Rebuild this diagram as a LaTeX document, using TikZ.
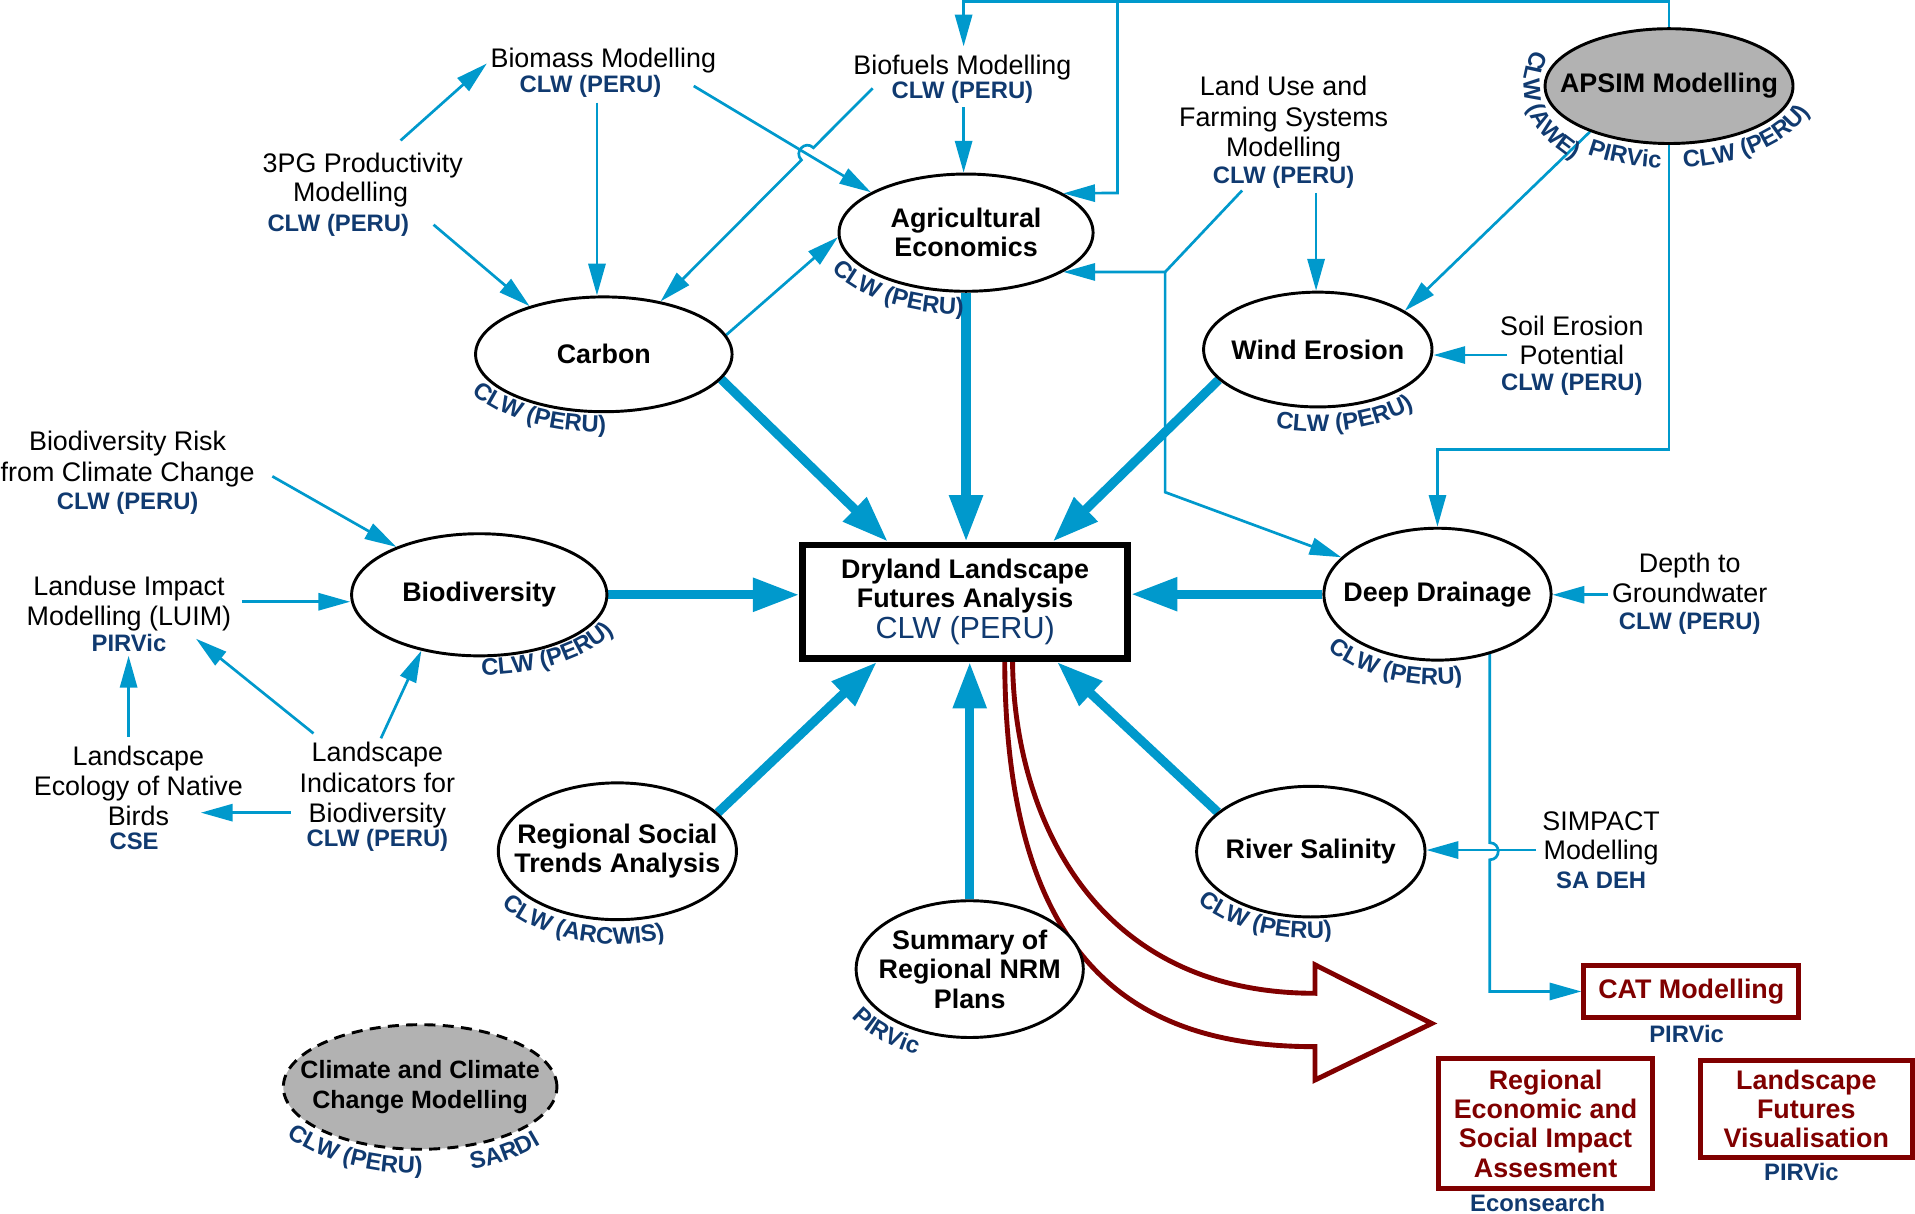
\documentclass[tikz,border=0pt]{standalone}
\usepackage{fontspec}
\setmainfont{Liberation Sans}
\usetikzlibrary{arrows.meta,shapes.geometric,decorations.text,calc}
\pgfdeclarelayer{bg}
\pgfsetlayers{bg,main}
\definecolor{cblue}{RGB}{0,153,204}
\definecolor{labblue}{RGB}{16,58,112}
\definecolor{dred}{RGB}{128,0,0}
\definecolor{gfill}{RGB}{178,178,178}
\newcommand\regf{\fontsize{22}{24}\selectfont}
\newcommand\labs{\fontsize{19.5}{24}\selectfont\bfseries}
\newcommand\labf{\labs\color{labblue}}
\newcommand\bldf{\fontsize{22}{24}\selectfont\bfseries}
\newcommand\arclabel[6]{\path[decorate,decoration={text along path,text align=center,text={|\labf|#6}}] ($(#1.center)+(#2:#4 and #5)$) arc[start angle=#2,end angle=#3,x radius=#4,y radius=#5];}
\begin{document}
\begin{tikzpicture}[x=1pt,y=-1pt,
  conn/.style={draw=cblue,line width=2.2pt,-{Triangle[length=26pt,width=14pt]}},
  bigconn/.style={draw=cblue,line width=7.5pt,-{Triangle[length=38pt,width=26pt]}},
  ell/.style={ellipse,draw=black,line width=2.4pt,fill=white,inner sep=0pt},
  gell/.style={ell,fill=gfill},
  etext/.style={font=\bldf,align=center,inner sep=0pt},
  txt/.style={font=\regf,align=center,inner sep=0pt},
  lab/.style={font=\labs,text=labblue,inner sep=0pt},
  cbox/.style={draw=black,line width=5.5pt,fill=white,inner sep=0pt,minimum width=266pt,minimum height=93pt,font=\bldf,align=center},
  rbox/.style={draw=dred,line width=4pt,fill=white,inner sep=0pt,font=\bldf,text=dred,align=center}]
\useasboundingbox (0,0) rectangle (1568,994);

% ---------- ellipses ----------
\node[ell,minimum width=208pt,minimum height=96pt] (agri) at (791,190.5) {};
\node[etext] (agri-t) at (agri.center) {Agricultural\\Economics};
\node[ell,minimum width=210pt,minimum height=94pt] (carbon) at (494.4,290.1) {};
\node[etext] (carbon-t) at (carbon.center) {Carbon};
\node[ell,minimum width=187pt,minimum height=94pt] (wind) at (1079,286.2) {};
\node[etext] (wind-t) at (wind.center) {Wind Erosion};
\node[gell,minimum width=203pt,minimum height=94pt] (apsim) at (1366.6,70.5) {};
\node[etext] (apsim-t) at (apsim.center) {APSIM Modelling};
\node[ell,minimum width=209pt,minimum height=100pt] (biod) at (392.4,487) {};
\node[etext] (biod-t) at (biod.center) {Biodiversity};
\node[ell,minimum width=186pt,minimum height=108pt] (deep) at (1177,486.5) {};
\node[etext] (deep-t) at (deep.center) {Deep Drainage};
\node[ell,minimum width=195pt,minimum height=112pt] (social) at (505.5,697) {};
\node[etext] (social-t) at (social.center) {Regional Social\\Trends Analysis};
\node[ell,minimum width=186pt,minimum height=112pt] (nrm) at (794,793.5) {};
\node[etext] (nrm-t) at (nrm.center) {Summary of\\Regional NRM\\Plans};
\node[ell,minimum width=187pt,minimum height=107pt] (river) at (1073.3,697.3) {};
\node[etext] (river-t) at (river.center) {River Salinity};
\node[gell,dash pattern=on 9pt off 6pt,minimum width=224pt,minimum height=102pt] (climate) at (344,890) {};
\node[etext,font=\fontsize{20.5}{24}\selectfont\bfseries] (climate-t) at (climate.center) {Climate and Climate\\Change Modelling};

% ---------- central box and red boxes ----------
\node[cbox] (box) at (790.25,492.75) {Dryland Landscape\\Futures Analysis\\[1pt]{\fontsize{25}{26}\selectfont\mdseries\color{labblue}CLW (PERU)}};
\node[rbox,minimum width=176pt,minimum height=42.5pt] (cat) at (1384.8,811.8) {CAT Modelling};
\node[rbox,minimum width=175pt,minimum height=106pt] (rei) at (1265.5,920) {Regional\\Economic and\\Social Impact\\Assesment};
\node[rbox,minimum width=174pt,minimum height=80pt] (lfv) at (1479,908) {Landscape\\Futures\\Visualisation};
\node[lab] (cat-l) at (1381,846.5) {PIRVic};
\node[lab] (rei-l) at (1259,985) {Econsearch};
\node[lab] (lfv-l) at (1475,960) {PIRVic};

% ---------- free text nodes ----------
\node[txt] (bm) at (488.5,59.4) {\hspace*{11pt}Biomass Modelling\\[-4pt]{\labf CLW (PERU)}\hspace*{10pt}};
\node[txt] (bf) at (788,64.7) {Biofuels Modelling\\[-4pt]{\labf CLW (PERU)}};
\node[txt] (tpg) at (287,159.2) {\hspace*{20pt}3PG Productivity\\Modelling\\{\labf CLW (PERU)}\hspace*{20pt}};
\node[txt] (lu) at (1051,108.2) {Land Use and\\[1pt]Farming Systems\\[0.5pt]Modelling\\[-2pt]{\labf CLW (PERU)}};
\node[txt] (soil) at (1287,291) {Soil Erosion\\Potential\\[-3pt]{\labf CLW (PERU)}};
\node[txt] (bdr) at (104.5,387.4) {Biodiversity Risk\\[1.4pt]from Climate Change\\[-1pt]{\labf CLW (PERU)}};
\node[txt] (luim) at (105.6,502.8) {Landuse Impact\\[0.6pt]Modelling (LUIM)\\[-3pt]{\labf PIRVic}};
\node[txt] (birds) at (113.3,653.2) {Landscape\\[0.6pt]Ecology of Native\\[0.6pt]Birds\\[-4pt]{\labf CSE}\hspace*{7pt}};
\node[txt] (ind) at (309,652.5) {Landscape\\[1pt]Indicators for\\[0.6pt]Biodiversity\\[-4.4pt]{\labf CLW (PERU)}};
\node[txt] (depth) at (1383.5,486) {Depth to\\[1pt]Groundwater\\[-2pt]{\labf CLW (PERU)}};
\node[txt] (simp) at (1311,696) {SIMPACT\\Modelling\\[-1pt]{\labf SA DEH}};

% ---------- curved organisation labels ----------
\arclabel{agri}{164}{84}{124}{67}{CLW (PERU)}
\arclabel{carbon}{162}{82}{124}{64}{CLW (PERU)}
\arclabel{wind}{116}{36}{113}{67}{CLW (PERU)}
\arclabel{apsim}{209}{125}{119}{80}{CLW (AWE)}
\arclabel{apsim}{133}{85}{121}{67}{PIRVic}
\arclabel{apsim}{93}{3}{121}{67}{CLW (PERU)}
\arclabel{biod}{96}{16}{124}{66}{CLW (PERU)}
\arclabel{deep}{152}{72}{113}{74}{CLW (PERU)}
\arclabel{river}{154}{74}{114}{71}{CLW (PERU)}
\arclabel{social}{160}{58}{117}{76}{CLW (ARCWIS)}
\arclabel{nrm}{168}{98}{113}{76}{PIRVic}
\arclabel{climate}{166}{76}{132}{71}{CLW (PERU)}
\arclabel{climate}{80}{30}{132}{71}{SARDI}

% ---------- connector end points at text ----------
\coordinate (tl) at (789,1.5);
\coordinate (tm) at (915,1.5);
\coordinate (tmd) at (915,158);
\coordinate (bf-i) at (789,38);
\coordinate (tpg-o1) at (328,115);
\coordinate (bm-i) at (398.6,52);
\coordinate (tpg-o2) at (355,184);
\coordinate (bm-o1) at (488.8,84);
\coordinate (bm-o2) at (568,70.4);
\coordinate (bf-o1) at (714.5,72.3);
\coordinate (hop1) at (666.0,121.0);
\coordinate (hop2) at (656.2,131.0);
\coordinate (bf-o2) at (789,88);
\coordinate (lu-o1) at (1077.6,158);
\coordinate (lu-o2) at (1017,156);
\coordinate (luj) at (954,222.7);
\coordinate (luk) at (954,403);
\coordinate (ddturn) at (1177,368);
\coordinate (soil-o) at (1234,290.7);
\coordinate (dep-o) at (1317,487);
\coordinate (hpa) at (0,690);
\coordinate (hpb) at (0,704);
\coordinate (sim-o) at (1257.8,696);
\coordinate (bdr-o) at (223,390);
\coordinate (luim-o) at (198,492.7);
\coordinate (ind-o1) at (256.7,600.5);
\coordinate (luim-i) at (160.5,523);
\coordinate (ind-o2) at (311.9,604.5);
\coordinate (ind-o3) at (238.2,665.4);
\coordinate (birds-i) at (164.5,665.4);
\coordinate (birds-o) at (105.3,603.2);
\coordinate (luim-i2) at (105.3,537);

\begin{pgfonlayer}{bg}
% thin connectors
\draw[conn] (tpg-o1) -- (bm-i);
\draw[conn] (tpg-o2) -- (carbon.147);
\draw[conn] (bm-o1) -- (bm-o1 |- carbon.north);
\draw[conn] (bm-o2) -- (agri.157);
\draw[conn] (bf-o1) -- (hop1) .. controls (659.4,114.4) and (649.6,124.4) .. (hop2) -- (carbon.43);
\draw[conn] (bf-o2) -- (bf-o2 |- agri.north);
\draw[conn] (carbon.9) -- (agri.182);
\draw[conn] (apsim.north) |- (tl) -- (bf-i);
\draw[conn] (tm) -- (tmd) -- (agri.22);
\draw[conn] (apsim.south) |- (ddturn) -- (deep.north);
\draw[conn] (apsim.210) -- (wind.24);
\draw[conn] (lu-o1) -- (lu-o1 |- wind.north);
\draw[conn] (lu-o2) -- (luj) -- (agri.338);
\draw[conn] (luj) -- (luk) -- (deep.159);
\draw[conn] (soil-o) -- (soil-o -| wind.east);
\draw[conn] (dep-o) -- (dep-o -| deep.east);
\draw[conn] (deep.311) -- (deep.311 |- hpa) .. controls +(9.3,0) and +(9.3,0) .. (deep.311 |- hpb) |- (cat.west);
\draw[conn] (sim-o) -- (sim-o -| river.east);
\draw[conn] (bdr-o) -- (biod.150);
\draw[conn] (luim-o) -- (luim-o -| biod.west);
\draw[conn] (ind-o1) -- (luim-i);
\draw[conn] (ind-o2) -- (biod.224);
\draw[conn] (ind-o3) -- (birds-i);
\draw[conn] (birds-o) -- (luim-i2);
% thick connectors into the central box
\draw[bigconn] (carbon.348) -- ([xshift=72.5pt]box.north west);
\draw[bigconn] (agri.south) -- (agri.south |- box.north);
\draw[bigconn] (wind.197) -- ([xshift=207.5pt]box.north west);
\draw[bigconn] (biod.east) -- (biod.east -| box.west);
\draw[bigconn] (deep.west) -- (deep.west -| box.east);
\draw[bigconn] (social.21) -- ([xshift=63.5pt]box.south west);
\draw[bigconn] (nrm.north) -- (nrm.north |- box.south);
\draw[bigconn] (river.157) -- ([xshift=211pt]box.south west);
% hollow output arrow
\draw[dred,line width=4pt,line join=miter,miter limit=10]
  ([xshift=32.4pt,yshift=4pt]box.south) .. controls (822.6,790) and (930,857) .. (1076.7,857)
  -- (1076.7,884.3) -- (1172.3,838) -- (1076.7,790) -- (1076.7,813.3)
  .. controls (890,813.3) and (829,660) .. ([xshift=38.8pt,yshift=4pt]box.south) -- cycle;
\end{pgfonlayer}
\end{tikzpicture}
\end{document}
